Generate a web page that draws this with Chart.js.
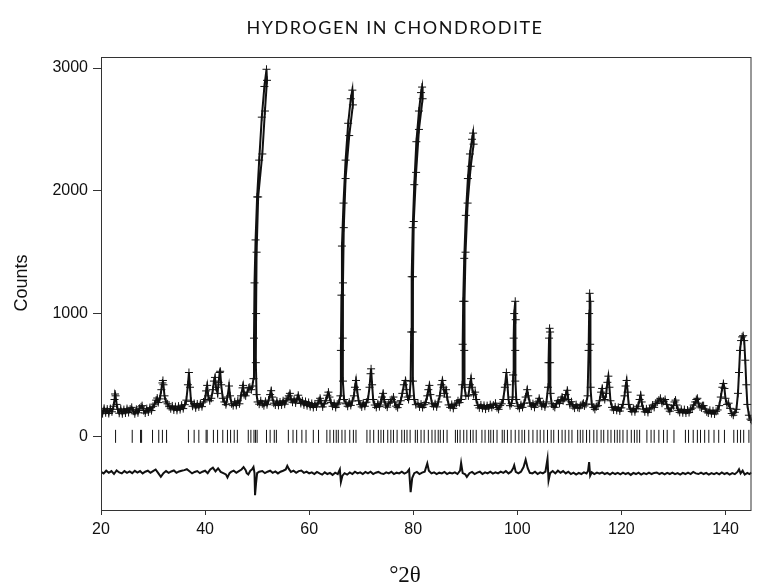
<!DOCTYPE html>
<html>
<head>
<meta charset="utf-8">
<script src="https://cdn.jsdelivr.net/npm/chart.js@4/dist/chart.umd.min.js"></script>
<style>
  html, body { margin: 0; padding: 0; background: #fff; }
  canvas { display: block; }
</style>
</head>
<body>
<canvas id="myChart" width="759" height="588"></canvas>
<script>
const profile = [
  [20.0,215],[20.3,185],[20.6,228],[20.9,192],[21.2,222],[21.5,186],[21.8,226],[22.1,200],[22.4,245],[22.6,300],[22.7,345],[22.8,330],[23.0,260],[23.2,220],[23.5,188],[23.8,224],[24.1,184],[24.4,218],[24.7,190],[25.0,226],[25.3,194],[25.6,222],[25.9,236],[26.2,205],[26.5,184],[26.8,220],[27.1,192],[27.4,228],[27.7,240],[27.9,250],[28.2,210],[28.5,190],[28.8,226],[29.1,198],[29.4,234],[29.7,210],
  [30.0,245],[30.3,262],[30.6,295],[30.8,312],[31.0,275],[31.3,305],[31.6,380],[31.8,435],[31.9,455],[32.0,420],[32.2,330],[32.5,280],[32.8,265],[33.1,242],[33.4,225],[33.7,248],[34.0,215],[34.3,242],[34.6,212],[34.9,246],[35.2,218],[35.5,254],[35.8,226],[36.1,258],[36.4,295],[36.7,420],[36.9,520],[37.1,400],[37.3,285],[37.6,245],[37.9,268],[38.2,232],[38.5,264],[38.8,240],[39.1,268],[39.4,242],[39.7,280],
  [40.0,300],[40.2,370],[40.4,415],[40.6,330],[40.9,290],[41.2,310],[41.5,380],[41.7,450],[41.9,480],[42.1,400],[42.4,350],[42.6,440],[42.8,520],[42.9,530],[43.1,420],[43.4,310],[43.7,280],[44.0,258],[44.3,320],[44.6,410],[44.8,330],[45.1,265],[45.4,250],[45.7,282],[46.0,252],[46.3,290],[46.6,265],[46.9,330],[47.2,395],[47.3,415],[47.5,340],[47.8,330],[48.1,360],[48.4,395],[48.6,400],[48.9,380],[49.1,410],
  [49.3,470],[49.4,800],[49.5,1250],[49.7,1600],[50.0,1950],[50.4,2250],[50.9,2600],[51.4,2850],[51.8,2990],[51.9,2900],[51.5,2650],[51.0,2300],[50.2,1950],[49.9,1500],[49.8,1000],[49.75,600],[49.9,340],[50.1,280],
  [50.4,262],[50.7,290],[51.0,265],[51.3,250],[51.6,285],[51.9,258],[52.2,295],[52.5,340],[52.7,372],[52.9,320],[53.2,270],[53.5,255],[53.8,288],[54.1,252],[54.4,280],[54.7,256],[55.0,290],[55.3,262],[55.6,295],[55.9,310],[56.1,330],[56.3,350],[56.5,300],[56.8,278],[57.1,300],[57.4,272],[57.7,310],[57.9,335],[58.1,300],[58.4,268],[58.7,290],[59.0,256],[59.3,284],[59.6,250],[59.9,276],
  [60.2,242],[60.5,268],[60.8,235],[61.1,264],[61.4,240],[61.7,272],[61.9,290],[62.1,310],[62.3,270],[62.6,240],[62.9,266],[63.2,290],[63.5,335],[63.7,360],[63.9,320],[64.2,275],[64.5,245],[64.8,268],[65.1,235],[65.4,262],[65.7,272],
  [66.0,330],[66.1,700],[66.2,1150],[66.3,1550],[66.6,1900],[67.0,2250],[67.5,2550],[68.0,2750],[68.3,2820],[68.4,2700],[67.7,2450],[67.0,2100],[66.65,1700],[66.5,1250],[66.45,800],[66.5,450],[66.7,300],
  [67.1,265],[67.4,245],[67.7,278],[68.0,252],[68.3,288],[68.6,330],[68.8,400],[69.0,455],[69.2,380],[69.5,290],[69.8,258],[70.1,240],[70.4,272],[70.7,245],[71.0,278],[71.3,300],[71.6,400],[71.8,510],[71.9,550],[72.1,420],[72.3,300],[72.6,255],[72.9,236],[73.2,266],[73.5,242],[73.8,280],[74.0,320],[74.2,350],[74.4,300],[74.7,255],[75.0,238],[75.3,270],[75.6,280],[75.9,300],[76.2,320],[76.4,280],[76.7,246],[77.0,234],[77.3,260],[77.6,290],[77.9,350],[78.2,420],[78.5,455],[78.7,380],[78.9,320],[79.1,300],[79.3,330],
  [79.5,450],[79.6,850],[79.7,1300],[79.9,1700],[80.2,2050],[80.6,2400],[81.1,2650],[81.5,2800],[81.7,2845],[81.8,2750],[81.1,2500],[80.55,2150],[80.1,1750],[79.95,1300],[79.9,850],[79.95,450],[80.2,300],
  [80.5,258],[80.9,268],[81.2,240],[81.5,262],[81.8,235],[82.1,258],[82.4,275],[82.7,330],[82.9,380],[83.1,415],[83.3,340],[83.6,265],[83.9,244],[84.2,266],[84.5,240],[84.8,280],[85.1,330],[85.4,420],[85.6,455],[85.8,400],[86.0,350],[86.3,380],[86.5,320],[86.8,256],[87.1,236],[87.4,260],[87.7,228],[88.0,254],[88.3,270],[88.6,290],[88.9,275],[89.2,300],
  [89.4,420],[89.5,750],[89.6,1100],[89.8,1450],[90.1,1800],[90.5,2100],[90.9,2300],[91.3,2420],[91.5,2470],[91.6,2380],[91.05,2200],[90.45,1900],[90.05,1500],[89.85,1100],[89.8,700],[89.9,400],[90.1,330],
  [90.6,330],[90.9,420],[91.1,470],[91.3,400],[91.6,340],[91.9,360],[92.1,300],[92.4,252],[92.7,232],[93.0,256],[93.3,228],[93.6,252],[93.9,222],[94.2,250],[94.5,230],[94.8,258],[95.1,236],[95.4,254],[95.8,270],[96.1,234],[96.4,220],[96.7,252],[97.0,265],[97.3,300],[97.6,400],[97.9,520],[98.1,420],[98.3,300],[98.6,250],[98.9,268],[99.1,320],
  [99.2,500],[99.3,800],[99.4,1000],[99.6,1100],[99.7,950],[99.6,700],[99.6,450],[99.8,300],
  [100.1,246],[100.4,228],[100.7,258],[101.0,236],[101.3,270],[101.6,320],[101.9,380],[102.1,330],[102.4,272],[102.7,246],[103.0,266],[103.3,236],[103.6,265],[103.9,280],[104.2,310],[104.4,280],[104.7,246],[105.0,266],[105.3,240],[105.6,280],[105.9,400],
  [106.0,600],[106.1,800],[106.2,880],[106.3,850],[106.3,600],[106.4,350],[106.6,265],
  [106.9,246],[107.2,236],[107.5,266],[107.8,290],[108.1,268],[108.4,300],[108.6,320],[108.8,290],[109.1,310],[109.3,340],[109.6,375],[109.8,300],[110.1,258],[110.4,282],[110.7,246],[111.0,230],[111.3,258],[111.6,236],[111.9,230],[112.2,252],[112.5,260],[112.7,270],[112.9,248],[113.2,262],[113.5,330],
  [113.7,700],[113.8,1000],[113.9,1165],[114.0,1100],[114.0,750],[114.1,400],[114.3,262],
  [114.6,236],[114.9,220],[115.2,242],[115.5,250],[115.8,290],[116.1,360],[116.3,390],[116.5,320],[116.8,300],[117.1,350],[117.3,440],[117.5,490],[117.7,400],[117.9,290],[118.2,236],[118.5,215],[118.8,240],[119.1,212],[119.4,236],[119.7,206],
  [120.0,232],[120.3,260],[120.6,330],[120.8,410],[121.0,455],[121.2,360],[121.4,260],[121.7,222],[122.0,202],[122.3,228],[122.6,200],[122.9,228],[123.2,245],[123.5,300],[123.7,335],[123.9,280],[124.2,222],[124.5,200],[124.8,224],[125.1,195],[125.4,222],[125.7,232],[126.0,255],[126.3,236],[126.6,268],[126.9,280],[127.2,295],[127.5,310],[127.8,270],[128.1,285],[128.4,300],[128.7,260],[129.0,224],[129.3,205],[129.6,230],
  [130.0,250],[130.2,280],[130.4,295],[130.6,255],[130.9,212],[131.2,195],[131.5,220],[131.8,192],[132.1,218],[132.4,190],[132.7,214],[133.0,194],[133.3,218],[133.6,230],[133.9,255],[134.2,280],[134.4,300],[134.6,310],[134.8,270],[135.1,240],[135.4,232],[135.6,250],[135.8,250],[136.1,222],[136.4,200],[136.7,190],[137.0,212],[137.3,185],[137.6,208],[137.9,182],[138.2,204],[138.5,215],[138.8,250],[139.1,320],[139.4,400],[139.6,430],[139.8,390],
  [140.0,310],[140.3,260],[140.6,270],[140.9,228],[141.2,186],[141.5,172],[141.8,196],[142.1,220],[142.4,350],[142.6,520],[142.8,700],[143.0,780],[143.2,810],[143.4,820],[143.6,780],[143.8,620],[144.0,420],[144.2,260],[144.5,172],[144.8,140],[145.0,130]
];

// Положения рефлексов (штрихи на уровне 0)
const reflections = [
  22.8, 26.0, 27.6, 27.8, 29.9, 31.1, 31.8, 32.6, 36.8, 37.9, 38.8, 40.2, 40.4, 41.6, 42.4, 43.4, 44.3, 44.9, 45.6, 46.2,
  48.3, 48.8, 49.4, 49.7, 50.0, 51.8, 52.5, 53.3, 53.7, 56.0, 56.9, 57.6, 58.6, 59.4, 60.8, 61.8, 63.4, 64.0, 64.7, 65.2,
  65.6, 66.3, 66.9, 67.8, 68.5, 69.0, 71.1, 71.7, 72.4, 73.3, 73.8, 74.3, 75.1, 75.7, 76.2, 76.9, 77.8, 78.3, 78.8, 79.4,
  80.4, 80.8, 81.5, 82.1, 82.9, 83.6, 84.2, 84.8, 85.2, 85.8, 86.5, 88.1, 88.5, 89.0, 89.7, 90.3, 91.0, 91.5, 92.1, 93.2,
  93.8, 94.5, 94.9, 95.4, 96.1, 97.1, 97.5, 98.1, 98.8, 99.6, 100.3, 100.9, 101.4, 102.2, 103.0, 103.8, 104.4, 105.1, 105.8,
  106.5, 107.0, 107.9, 108.6, 109.2, 109.9, 110.5, 111.6, 112.1, 112.6, 113.3, 113.9, 114.7, 115.3, 116.1, 116.6, 117.4,
  118.0, 118.7, 119.2, 119.7, 120.3, 121.1, 121.9, 122.5, 123.0, 123.5, 124.9, 125.7, 126.3, 127.2, 128.1, 128.8, 130.1,
  132.3, 132.9, 133.8, 134.6, 135.2, 136.0, 136.8, 137.8, 138.7, 139.8, 141.6, 142.3, 142.9, 143.5, 144.5
];

// Разностная кривая (набл. - расч.), смещённая вниз
const difference = [
  [20.0,-290],[20.5,-302],[21.0,-280],[21.5,-297],[22.0,-283],[22.5,-307],[23.0,-278],[23.5,-294],[24.0,-302],[24.5,-283],[25.0,-297],[25.5,-286],[26.0,-300],[26.5,-281],[27.0,-295],[27.5,-283],[28.0,-302],[28.5,-288],[29.0,-280],[29.5,-297],
  [30.0,-283],[30.5,-270],[31.0,-300],[31.5,-330],[32.0,-300],[32.5,-283],[33.0,-297],[33.5,-286],[34.0,-278],[34.5,-297],[35.0,-286],[35.5,-280],[36.0,-275],[36.5,-268],[37.0,-285],[37.5,-302],[38.0,-290],[38.5,-283],[39.0,-300],[39.5,-288],
  [40.0,-280],[40.5,-300],[41.0,-270],[41.5,-255],[42.0,-285],[42.5,-260],[43.0,-290],[43.5,-300],[44.0,-310],[44.3,-335],[44.7,-300],[45.0,-290],[45.5,-280],[46.0,-297],[46.5,-283],[47.0,-270],[47.4,-250],[47.8,-275],[48.0,-300],[48.3,-310],[48.7,-280],[49.0,-270],[49.3,-250],[49.5,-300],[49.6,-480],[49.8,-380],
  [50.0,-300],[50.4,-288],[51.0,-283],[51.5,-300],[52.0,-288],[52.5,-280],[53.0,-297],[53.5,-286],[54.0,-302],[54.5,-288],[55.0,-280],[55.5,-270],[55.8,-240],[56.1,-265],[56.5,-290],[57.0,-280],[57.5,-297],[58.0,-283],[58.5,-278],[59.0,-297],[59.5,-288],
  [60.0,-302],[60.5,-293],[61.0,-307],[61.5,-290],[62.0,-302],[62.5,-312],[63.0,-293],[63.5,-307],[64.0,-298],[64.5,-314],[65.0,-296],[65.5,-307],[65.9,-270],[66.1,-372],[66.4,-320],[66.8,-300],[67.3,-312],[67.8,-294],[68.3,-307],[68.8,-288],[69.3,-302],[69.8,-293],
  [70.3,-307],[70.8,-290],[71.3,-302],[71.8,-288],[72.3,-307],[72.8,-296],[73.3,-290],[73.8,-302],[74.3,-307],[74.8,-293],[75.3,-302],[75.8,-288],[76.3,-307],[76.8,-296],[77.3,-302],[77.8,-288],[78.3,-304],[78.8,-293],[79.2,-270],[79.5,-455],[79.8,-340],
  [80.2,-300],[80.7,-290],[81.2,-307],[81.7,-296],[82.2,-288],[82.7,-220],[83.0,-280],[83.5,-302],[84.0,-293],[84.5,-307],[85.0,-296],[85.5,-302],[86.0,-290],[86.5,-307],[87.0,-296],[87.5,-302],[88.0,-293],[88.5,-307],[89.0,-280],[89.2,-217],[89.5,-300],
  [90.0,-310],[90.3,-330],[90.8,-300],[91.3,-290],[91.8,-307],[92.3,-296],[92.8,-288],[93.3,-307],[93.8,-293],[94.3,-302],[94.8,-288],[95.3,-304],[95.8,-293],[96.3,-302],[96.8,-288],[97.3,-297],[97.8,-283],[98.3,-302],[98.8,-288],[99.2,-260],[99.4,-236],[99.7,-290],
  [100.2,-302],[100.7,-288],[101.2,-250],[101.6,-190],[102.0,-260],[102.4,-297],[102.9,-302],[103.4,-288],[103.9,-307],[104.4,-293],[104.9,-302],[105.4,-288],[105.8,-182],[106.0,-360],[106.3,-300],[106.8,-283],[107.3,-302],[107.8,-280],[108.3,-297],[108.8,-283],[109.3,-302],[109.8,-288],
  [110.3,-307],[110.8,-296],[111.3,-312],[111.8,-298],[112.3,-307],[112.8,-293],[113.3,-302],[113.6,-280],[113.8,-210],[114.0,-320],[114.3,-293],[114.8,-307],[115.3,-296],[115.8,-304],[116.3,-293],[116.8,-307],[117.3,-298],[117.8,-312],[118.3,-296],[118.8,-307],[119.3,-298],[119.8,-310],
  [120.3,-296],[120.8,-307],[121.3,-298],[121.8,-314],[122.3,-298],[122.8,-307],[123.3,-296],[123.8,-312],[124.3,-300],[124.8,-308],[125.3,-296],[125.8,-307],[126.3,-298],[126.8,-294],[127.3,-307],[127.8,-298],[128.3,-310],[128.8,-298],[129.3,-307],[129.8,-296],
  [130.3,-308],[130.8,-300],[131.3,-312],[131.8,-298],[132.3,-307],[132.8,-296],[133.3,-307],[133.8,-290],[134.3,-302],[134.8,-307],[135.3,-296],[135.8,-307],[136.3,-298],[136.8,-312],[137.3,-300],[137.8,-308],[138.3,-298],[138.8,-310],[139.3,-294],[139.8,-307],
  [140.3,-298],[140.8,-312],[141.3,-300],[141.8,-308],[142.3,-290],[142.6,-268],[142.9,-302],[143.3,-280],[143.7,-312],[144.2,-298],[144.6,-307],[145.0,-296]
];

// Подписи делений осей
const xTicks = [20, 40, 60, 80, 100, 120, 140];
const yTicks = [0, 1000, 2000, 3000];

// Рамка графика и подписи (заголовок, оси)
const frameAndText = {
  id: 'frameAndText',
  afterDraw(chart) {
    const { ctx, chartArea: a } = chart;
    ctx.save();
    ctx.strokeStyle = '#333';
    ctx.lineWidth = 1;
    ctx.strokeRect(a.left + 0.5, a.top + 0.5, a.right - a.left - 1, a.bottom - a.top);

    ctx.fillStyle = '#111';
    ctx.textAlign = 'center';
    ctx.textBaseline = 'middle';
    ctx.font = '18px Lato';
    ctx.letterSpacing = '1.5px';
    ctx.fillText('HYDROGEN IN CHONDRODITE', 395, 28);
    ctx.letterSpacing = '0px';

    ctx.font = '23px "Liberation Serif"';
    ctx.fillText('°2θ', 405, 576);

    ctx.font = '18px "Liberation Sans"';
    ctx.translate(22, 283);
    ctx.rotate(-Math.PI / 2);
    ctx.fillText('Counts', 0, 0);
    ctx.restore();
  }
};

const tickFont = "'Liberation Sans', Arial, sans-serif";

const config = {
  type: 'scatter',
  data: {
    datasets: [{
      label: 'Рефлексы',
      data: reflections.map(x => ({ x: x, y: 0 })),
      pointStyle: 'line',
      rotation: 90,
      pointRadius: 6.5,
      borderColor: '#111',
      borderWidth: 1,
      showLine: false
    }, {
      label: 'Разность',
      data: difference.map(p => ({ x: p[0], y: p[1] })),
      showLine: true,
      pointRadius: 0,
      borderColor: '#111',
      borderWidth: 2,
      tension: 0
    }, {
      label: 'Профиль',
      data: profile.map(p => ({ x: p[0], y: p[1] })),
      showLine: true,
      pointStyle: 'cross',
      pointRadius: 4,
      pointBorderWidth: 1,
      pointBorderColor: '#111',
      borderColor: '#111',
      borderWidth: 2,
      tension: 0
    }]
  },
  options: {
    responsive: false,
    animation: false,
    events: [],
    devicePixelRatio: 1,
    layout: { padding: { top: 57, right: 6, left: 0, bottom: 0 } },
    plugins: { legend: { display: false }, tooltip: { enabled: false } },
    scales: {
      x: {
        type: 'linear',
        min: 20,
        max: 145,
        afterBuildTicks: s => { s.ticks = xTicks.map(v => ({ value: v })); },
        afterFit: s => { s.height = 78; },
        border: { display: false },
        grid: { drawOnChartArea: false, drawTicks: true, tickLength: 5, color: '#333' },
        ticks: { color: '#111', font: { family: tickFont, size: 16 }, padding: 5, maxRotation: 0, callback: v => String(v) }
      },
      y: {
        min: -600,
        max: 3090,
        afterBuildTicks: s => { s.ticks = yTicks.map(v => ({ value: v })); },
        afterFit: s => { s.width = 101; },
        border: { display: false },
        grid: { drawOnChartArea: false, drawTicks: true, tickLength: 8, color: '#333' },
        ticks: { color: '#111', font: { family: tickFont, size: 16 }, padding: 5, callback: v => String(v) }
      }
    }
  },
  plugins: [frameAndText]
};

const myChart = new Chart(document.getElementById('myChart'), config);
</script>
</body>
</html>
